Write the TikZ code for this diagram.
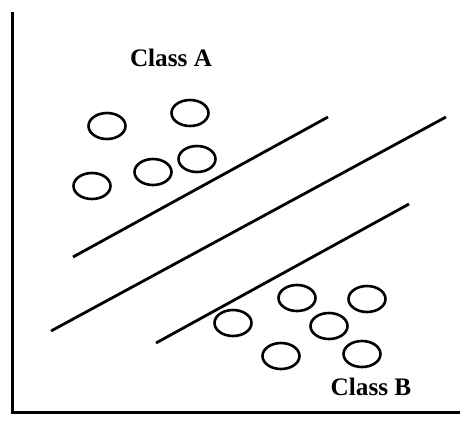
\documentclass[tikz,border=0pt]{standalone}
\usepackage{fontspec}
\setmainfont{Liberation Serif}
\usepackage{tikz}
\usetikzlibrary{shapes.geometric}

\begin{document}
\begin{tikzpicture}[
    x=0.5pt, y=-0.5pt,
    pt/.style={ellipse, draw, line width=1.3pt, minimum width=18.5pt, minimum height=13pt, inner sep=0pt},
    lbl/.style={font=\bfseries\fontsize{12.6}{15}\selectfont},
    sep/.style={line width=1.4pt},
    axis/.style={line width=1.5pt},
]
\useasboundingbox (0,0) rectangle (460,424);

% axes
\coordinate (top) at (12,12);
\coordinate (origin) at (12,412);
\coordinate (right) at (460,412);
\draw[axis] (top) -- (origin) -- (right);

% class A
\node[lbl] (labA) at (171,58) {Class A};
\node[pt] (a1) at (107,126) {};
\node[pt] (a2) at (190,113) {};
\node[pt] (a3) at (197,159) {};
\node[pt] (a4) at (153,172) {};
\node[pt] (a5) at (92,186) {};

% class B
\node[lbl] (labB) at (371,387) {Class B};
\node[pt] (b1) at (297,298) {};
\node[pt] (b2) at (367,299) {};
\node[pt] (b3) at (233,323) {};
\node[pt] (b4) at (329,326) {};
\node[pt] (b5) at (281,356) {};
\node[pt] (b6) at (362,354) {};

% separating lines
\coordinate (m1s) at (73,257);
\coordinate (m1e) at (328,117);
\coordinate (hs) at (51,331);
\coordinate (he) at (446,117);
\coordinate (m2s) at (156,343);
\coordinate (m2e) at (409,204);
\draw[sep] (m1s) -- (m1e);
\draw[sep] (hs) -- (he);
\draw[sep] (m2s) -- (m2e);

\end{tikzpicture}
\end{document}
